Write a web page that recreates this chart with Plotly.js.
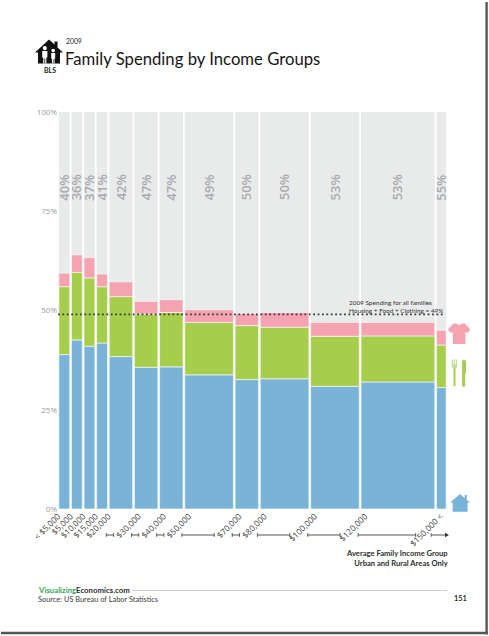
<!DOCTYPE html>
<html>
<head>
<meta charset="utf-8">
<script src="https://cdn.plot.ly/plotly-3.0.1.min.js"></script>
<style>
html,body{margin:0;padding:0;background:#fff;}
#chart{width:489px;height:636px;}
</style>
</head>
<body>
<div id="chart"></div>
<script>
// ---- data ----
const binLow  = [0,5000,10000,15000,20000,30000,40000,50000,70000,80000,100000,120000,150000];
const binHigh = [5000,10000,15000,20000,30000,40000,50000,70000,80000,100000,120000,150000,154500];
const tickLabels = ["< $5,000","$5,000","$10,000","$15,000","$20,000","$30,000","$40,000","$50,000","$70,000","$80,000","$100,000","$120,000","$150,000 <"];
const housing  = [38.9,42.6,41.0,41.8,38.4,35.7,35.8,33.8,32.6,32.8,30.9,32.0,30.6];
const food     = [17.1,17.0,17.2,14.2,15.1,13.4,13.7,13.2,13.6,13.0,12.6,11.6,10.7];
const clothing = [3.4,4.4,5.1,3.2,3.7,3.2,3.2,3.2,3.0,3.7,3.5,3.4,3.7];
const otherShareLabels = ["40%","36%","37%","41%","42%","47%","47%","49%","50%","50%","53%","53%","55%"];
const allFamiliesShare = 49;
const yTickVals = [0,25,50,75,100];
const yTickText = ["0%","25%","50%","75%","100%"];

// ---- geometry helpers (page pixels -> paper) ----
const W = 489, H = 636;
const M = {l:58, r:42, t:112, b:127};
const PW = W - M.l - M.r, PH = H - M.t - M.b;
const XMAX = 154500;
const UNIT = XMAX / PW;           // x units per pixel
const px = x => (x - M.l) / PW;
const py = y => (H - M.b - y) / PH;
const dataToPx = v => M.l + v / XMAX * PW;
const conv = s => s.replace(/(-?\d+\.?\d*),(-?\d+\.?\d*)/g, (m,a,b) => px(+a) + ',' + py(+b));

const GAP = 700; // white gap between columns, in x units
const centers = binLow.map((lo,i) => (lo + binHigh[i]) / 2);
const widths = binLow.map((lo,i) => binHigh[i] - lo - GAP);
const full = binLow.map(() => 100);
const foodBase = housing.slice();
const clothBase = housing.map((h,i) => h + food[i]);
// label anchor: wider income groups get their label nudged a few pixels right
const tickPos = binLow.map(v => v >= 30000 ? v + 5 * UNIT : v);

const segLine = {color:'rgba(255,255,255,0.6)', width:1};
const traces = [
  {type:'bar', x:centers, y:full, base:0, width:widths, marker:{color:'#e9eaea', line:{width:0}}, hoverinfo:'skip', name:'Other'},
  {type:'bar', x:centers, y:housing, base:0, width:widths, marker:{color:'#7ab3d8', line:segLine}, hoverinfo:'skip', name:'Housing'},
  {type:'bar', x:centers, y:food, base:foodBase, width:widths, marker:{color:'#a7cd4c', line:segLine}, hoverinfo:'skip', name:'Food'},
  {type:'bar', x:centers, y:clothing, base:clothBase, width:widths, marker:{color:'#f5a3b0', line:segLine}, hoverinfo:'skip', name:'Clothing'}
];

const ann = [];
// remaining-share labels
centers.forEach((c,i) => ann.push({xref:'x', yref:'y', x:c, y:81, text:otherShareLabels[i], textangle:-90,
  showarrow:false, font:{family:'Open Sans', size:13, color:'#a8abae', weight:600}}));

// title block
ann.push({xref:'paper', yref:'paper', x:px(62.5), y:py(59.5), xanchor:'left', yanchor:'middle', showarrow:false,
  text:'Family Spending by Income Groups', font:{family:'Lato', size:16.7, color:'#161616'}});
ann.push({xref:'paper', yref:'paper', x:px(63.5), y:py(41), xanchor:'left', yanchor:'middle', showarrow:false,
  text:'2009', font:{family:'Lato', size:6.8, color:'#222'}});
ann.push({xref:'paper', yref:'paper', x:px(49.5), y:py(70.5), xanchor:'center', yanchor:'middle', showarrow:false,
  text:'<b>BLS</b>', font:{family:'Lato', size:7, color:'#222'}});

// average note
ann.push({xref:'paper', yref:'paper', x:px(346.5), y:py(306), xanchor:'left', yanchor:'middle', align:'left', showarrow:false,
  text:'2009 Spending for all families<br>Housing + Food + Clothing = ' + allFamiliesShare + '%',
  font:{family:'Lato', size:6.4, color:'#333'}});

// axis caption
ann.push({xref:'paper', yref:'paper', x:px(449.5), y:py(557.5), xanchor:'right', yanchor:'middle', align:'right', showarrow:false,
  text:'<b>Average Family Income Group<br>Urban and Rural Areas Only</b>',
  font:{family:'Lato', size:7.6, color:'#2c2c2c'}});

// footer
ann.push({xref:'paper', yref:'paper', x:px(36), y:py(589.5), xanchor:'left', yanchor:'middle', showarrow:false,
  text:'<b><span style="color:#3aa653">Visualizing</span>Economics.com</b>', font:{family:'Lato', size:7.8, color:'#2d2d2d'}});
ann.push({xref:'paper', yref:'paper', x:px(36), y:py(599), xanchor:'left', yanchor:'middle', showarrow:false,
  text:'Source: US Bureau of Labor Statistics', font:{family:'Lato', size:7.4, color:'#3a3a3a'}});
ann.push({xref:'paper', yref:'paper', x:px(451.5), y:py(598.5), xanchor:'left', yanchor:'middle', showarrow:false,
  text:'<b>151</b>', font:{family:'Lato', size:7.4, color:'#2a2a2a'}});

const shapes = [];
// average dotted line
shapes.push({type:'line', xref:'x', yref:'y', x0:0, x1:153000, y0:allFamiliesShare, y1:allFamiliesShare,
  line:{color:'#3a3a3a', width:1.8, dash:'1.8px,2.6px'}});

// range brackets under tick labels
const BY = 535;
for (let i = 4; i < binLow.length - 1; i++) {
  const a = dataToPx(binLow[i]) - 2, b = dataToPx(binHigh[i]) - 20;
  shapes.push({type:'line', xref:'paper', yref:'paper', x0:px(a), x1:px(b), y0:py(BY), y1:py(BY), line:{color:'#555', width:1}});
  shapes.push({type:'line', xref:'paper', yref:'paper', x0:px(a), x1:px(a), y0:py(BY-1.8), y1:py(BY+1.8), line:{color:'#555', width:1}});
  shapes.push({type:'line', xref:'paper', yref:'paper', x0:px(b), x1:px(b), y0:py(BY-1.8), y1:py(BY+1.8), line:{color:'#555', width:1}});
}
{
  const a = dataToPx(binLow[binLow.length-1]) - 4.5;
  shapes.push({type:'line', xref:'paper', yref:'paper', x0:px(a), x1:px(446), y0:py(BY), y1:py(BY), line:{color:'#555', width:1}});
  shapes.push({type:'line', xref:'paper', yref:'paper', x0:px(a), x1:px(a), y0:py(BY-1.8), y1:py(BY+1.8), line:{color:'#555', width:1}});
  shapes.push({type:'path', xref:'paper', yref:'paper', path:conv('M445,532.8 L449,535 L445,537.2 Z'), fillcolor:'#333', line:{width:0}});
}

// footer rule
shapes.push({type:'line', xref:'paper', yref:'paper', x0:px(132), x1:px(447), y0:py(590.5), y1:py(590.5), line:{color:'#cfcfcf', width:1}});

// BLS house logo
shapes.push({type:'path', xref:'paper', yref:'paper', fillcolor:'#111', line:{width:0},
  path:conv('M35,52.5 L49,39.5 L54.5,44.6 L54.5,41.5 L57.5,41.5 L57.5,47.4 L63,52.5 L60,52.5 L60,63.5 L38,63.5 L38,52.5 Z')});
function circ(cx, cy, r, col) {
  shapes.push({type:'circle', xref:'paper', yref:'paper', x0:px(cx-r), x1:px(cx+r), y0:py(cy+r), y1:py(cy-r), fillcolor:col, line:{width:0}});
}
circ(44.8, 48.2, 2.1, '#fff');
circ(53.2, 50.6, 1.8, '#fff');
shapes.push({type:'path', xref:'paper', yref:'paper', fillcolor:'#fff', line:{width:0},
  path:conv('M42.2,51 L47.4,51 L47.4,57.5 L46.4,57.5 L46.4,63.5 L45.2,63.5 L45.2,58.5 L44.4,58.5 L44.4,63.5 L43.2,63.5 L43.2,57.5 L42.2,57.5 Z')});
shapes.push({type:'path', xref:'paper', yref:'paper', fillcolor:'#fff', line:{width:0},
  path:conv('M51.2,53 L55.2,53 L55.2,58.5 L54.5,58.5 L54.5,63.5 L53.5,63.5 L53.5,59.5 L52.9,59.5 L52.9,63.5 L51.9,63.5 L51.9,58.5 L51.2,58.5 Z')});

// T-shirt (clothing)
shapes.push({type:'path', xref:'paper', yref:'paper', fillcolor:'#f5a3b0', line:{width:0},
  path:conv('M453.5,323.5 L456.8,323.5 Q459.2,327 461.6,323.5 L465,323.5 L470.3,329.6 L467.3,333.2 L465.4,331.6 L465.4,344 L452.8,344 L452.8,331.6 L450.9,333.2 L447.9,329.6 Z')});

// fork and knife (food)
shapes.push({type:'path', xref:'paper', yref:'paper', fillcolor:'#c4df96', line:{width:0},
  path:conv('M451.7,359.5 L457.3,359.5 L457.3,366 Q457.3,368 455.6,368.6 L453.4,368.6 Q451.7,368 451.7,366 Z')});
shapes.push({type:'line', xref:'paper', yref:'paper', x0:px(453.6), x1:px(453.6), y0:py(359.5), y1:py(364.5), line:{color:'#fff', width:0.8}});
shapes.push({type:'line', xref:'paper', yref:'paper', x0:px(455.4), x1:px(455.4), y0:py(359.5), y1:py(364.5), line:{color:'#fff', width:0.8}});
shapes.push({type:'path', xref:'paper', yref:'paper', fillcolor:'#a5cd57', line:{width:0},
  path:conv('M453.5,368 L455.5,368 L455.5,386.3 L453.5,386.3 Z')});
shapes.push({type:'path', xref:'paper', yref:'paper', fillcolor:'#a5cd57', line:{width:0},
  path:conv('M462,386.5 L462,362 Q462.3,359.6 464,359.6 Q465.9,359.8 466,362 L466,373 L465.2,374 L465.2,386.5 Z')});

// house (housing)
shapes.push({type:'path', xref:'paper', yref:'paper', fillcolor:'#7ab3d8', line:{width:0},
  path:conv('M450,502.5 L460,494 L464.6,497.9 L464.6,495 L466.8,495 L466.8,499.8 L470.3,502.5 L467.6,502.5 L467.6,511.8 L452.6,511.8 L452.6,502.5 Z')});

// page frame shadow
shapes.push({type:'line', xref:'paper', yref:'paper', x0:px(486.6), x1:px(486.6), y0:py(2), y1:py(634.5), line:{color:'#555', width:2.4}});
shapes.push({type:'line', xref:'paper', yref:'paper', x0:px(1), x1:px(487.8), y0:py(633), y1:py(633), line:{color:'#555', width:2.4}});

const layout = {
  width:W, height:H,
  margin:{l:M.l, r:M.r, t:M.t, b:M.b, pad:0},
  paper_bgcolor:'#fff', plot_bgcolor:'#fff',
  barmode:'overlay', showlegend:false,
  font:{family:'Open Sans', color:'#333'},
  xaxis:{range:[0, XMAX], tickvals:tickPos, ticktext:tickLabels, tickangle:-45, ticks:'', showgrid:false, zeroline:false,
         showline:false, automargin:false, fixedrange:true, tickfont:{family:'Open Sans', size:8.3, color:'#444'}},
  yaxis:{range:[0,100], tickvals:yTickVals, ticktext:yTickText, ticks:'', showgrid:false, zeroline:false, showline:false,
         automargin:false, fixedrange:true, tickfont:{family:'Open Sans', size:8, color:'#9c9c9c'}},
  annotations:ann,
  shapes:shapes
};

Plotly.newPlot('chart', traces, layout, {staticPlot:true, displayModeBar:false});
</script>
</body>
</html>
